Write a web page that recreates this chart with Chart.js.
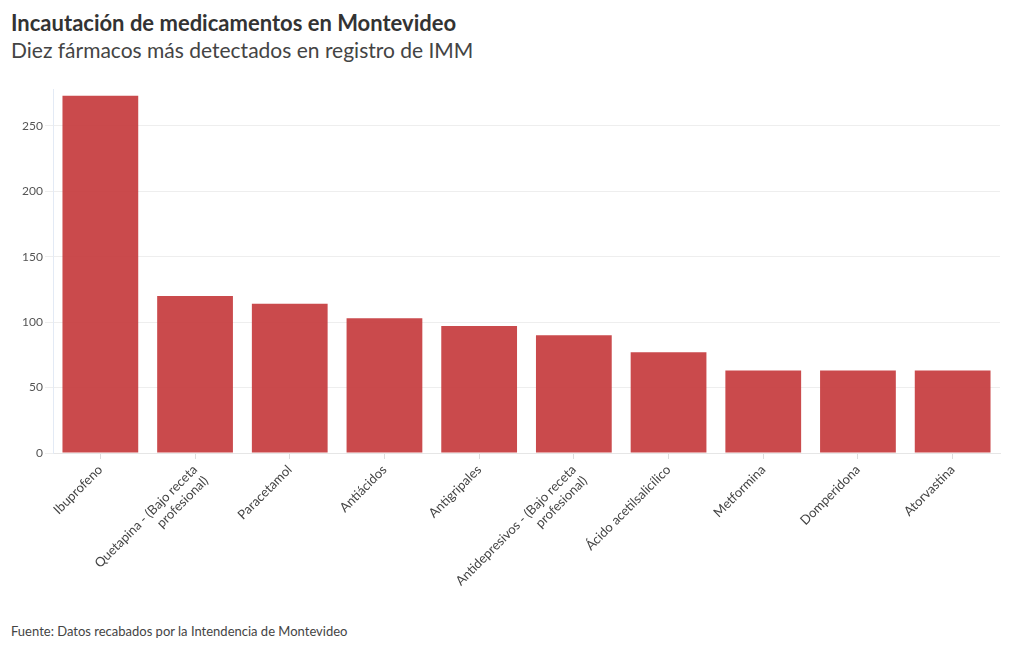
<!DOCTYPE html>
<html>
<head>
<meta charset="utf-8">
<script src="https://cdn.jsdelivr.net/npm/chart.js@4/dist/chart.umd.min.js"></script>
<style>
  body { margin: 0; background: #fff; font-family: "Source Sans Pro", Lato, sans-serif; color: #333; }
  #titulo { position: absolute; left: 11px; top: 9px; font-size: 22px; font-weight: bold; color: #333; }
  #subtitulo { position: absolute; left: 11px; top: 37px; font-size: 21px; color: #444; }
  #fuente { position: absolute; left: 11px; top: 623px; font-size: 13px; color: #444; }
  #caja { position: absolute; left: 0; top: 80px; width: 1020px; height: 520px; }
</style>
</head>
<body>
<div id="titulo">Incautación de medicamentos en Montevideo</div>
<div id="subtitulo">Diez fármacos más detectados en registro de IMM</div>
<div id="caja"><canvas id="grafica"></canvas></div>
<div id="fuente">Fuente: Datos recabados por la Intendencia de Montevideo</div>
<script>
// Datos
const farmacos = [
  'Ibuprofeno',
  ['Quetapina - (Bajo receta', 'profesional)'],
  'Paracetamol',
  'Antiácidos',
  'Antigripales',
  ['Antidepresivos - (Bajo receta', 'profesional)'],
  'Ácido acetilsalicílico',
  'Metformina',
  'Domperidona',
  'Atorvastina'
];
const incautaciones = [273, 120, 114, 103, 97, 90, 77, 63, 63, 63];
const ticksY = [0, 50, 100, 150, 200, 250];

const fuente = "'Source Sans Pro', Lato, sans-serif";

new Chart(document.getElementById('grafica'), {
  type: 'bar',
  data: {
    labels: farmacos,
    datasets: [{
      label: 'Incautaciones',
      data: incautaciones,
      backgroundColor: 'rgba(196, 54, 56, 0.9)',
      borderWidth: 0,
      categoryPercentage: 1,
      barPercentage: 0.8
    }]
  },
  options: {
    responsive: true,
    maintainAspectRatio: false,
    animation: false,
    layout: { padding: { top: 8, right: 20, left: 0, bottom: 0 } },
    plugins: {
      legend: { display: false },
      tooltip: { enabled: true }
    },
    scales: {
      x: {
        grid: { display: true, offset: false, drawOnChartArea: false, tickLength: 6, color: '#ddd' },
        border: { display: true, color: '#e6e6e6' },
        ticks: {
          maxRotation: 45,
          minRotation: 45,
          autoSkip: false,
          color: '#444',
          font: { family: fuente, size: 13 }
        },
        afterFit: (escala) => { escala.height = 147; }
      },
      y: {
        min: 0,
        max: 278,
        afterBuildTicks: (escala) => { escala.ticks = ticksY.map(v => ({ value: v })); },
        grid: { color: '#eeeeee', tickLength: 8 },
        border: { display: true, color: '#e3eaf5' },
        ticks: {
          color: '#555',
          padding: 2,
          font: { family: fuente, size: 12 }
        },
        afterFit: (escala) => { escala.width = 53; }
      }
    }
  }
});
</script>
</body>
</html>
